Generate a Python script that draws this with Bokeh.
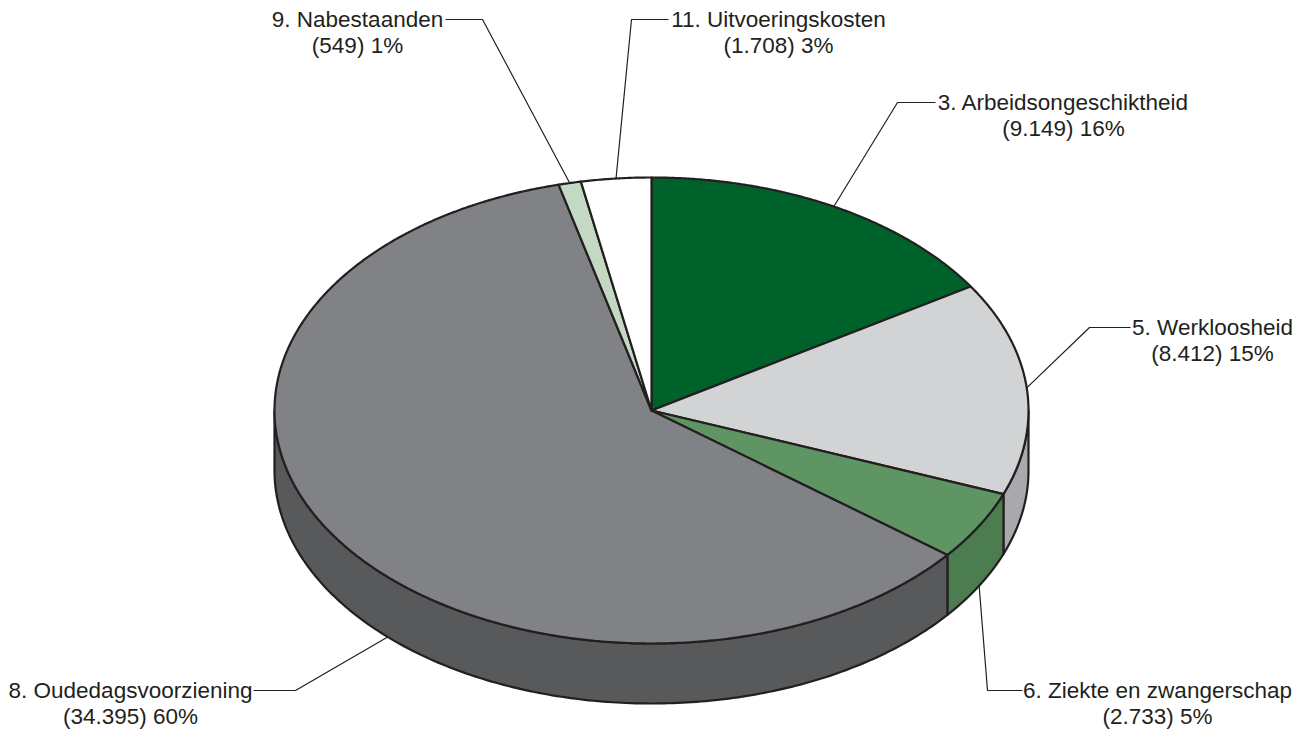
import numpy as np
from bokeh.plotting import figure
from bokeh.models import Range1d
from bokeh.core.properties import value
from bokeh.embed import file_html
from bokeh.resources import INLINE

# ---------------- data ----------------
categories = ["3. Arbeidsongeschiktheid", "5. Werkloosheid", "6. Ziekte en zwangerschap",
              "8. Oudedagsvoorziening", "9. Nabestaanden", "11. Uitvoeringskosten"]
amounts = [9149, 8412, 2733, 34395, 549, 1708]
amount_labels = ["9.149", "8.412", "2.733", "34.395", "549", "1.708"]
percent_labels = ["16%", "15%", "5%", "60%", "1%", "3%"]

# ---------------- styles ----------------
top_colors = ["#00622b", "#d1d3d4", "#5f9563", "#808285", "#c3d9c4", "#ffffff"]
side_colors = ["#004a20", "#a7a9ac", "#4b7d50", "#58595b", "#9fb8a0", "#dcdcdc"]
edge_color = "#231f20"
text_color = "#231f20"
FONT = "Liberation Sans"

# pie geometry (pixels)
CX, CY = 651.0, 410.0
RX, RY = 377.0, 233.0
DEPTH = 60.0
LINE_GAP = 26
MAX_LINE2 = 716

# label layout: text centre x, line-1 centre y, text-edge x, elbow x, anchor fraction, anchor face
label_layout = [
    (1063, 102, 935, 897, 0.5, "top"),
    (1212, 327, 1130, 1089, 0.5, "top"),
    (1157, 707, 1022, 987, 0.5, "bottom"),
    (130, 708, 253, 295, 0.442, "bottom"),
    (357, 19, 445, 482, 0.5, "top"),
    (778, 19, 668, 631, 0.5, "top"),
]

total = float(sum(amounts))
fracs = np.cumsum([0.0] + [a / total for a in amounts])
starts = fracs[:-1] * 360.0
ends = fracs[1:] * 360.0


def pt(theta_deg, dy=0.0):
    t = np.radians(theta_deg)
    return CX + RX * np.sin(t), CY - RY * np.cos(t) + dy


p = figure(width=1294, height=732, x_range=Range1d(0, 1294), y_range=Range1d(732, 0),
           output_backend="svg", toolbar_location=None, min_border=0,
           x_axis_type=None, y_axis_type=None)
p.grid.visible = False
p.outline_line_color = None
p.background_fill_color = "white"
p.border_fill_color = "white"

# side walls (front half only: 90..270 deg)
side_xs, side_ys, side_cols = [], [], []
for a0, a1, col in zip(starts, ends, side_colors):
    t0, t1 = max(a0, 90.0), min(a1, 270.0)
    if t1 <= t0:
        continue
    th = np.linspace(t0, t1, 200)
    xt, yt = pt(th)
    xb, yb = pt(th[::-1], DEPTH)
    side_xs.append(list(np.concatenate([xt, xb])))
    side_ys.append(list(np.concatenate([yt, yb])))
    side_cols.append(col)
p.patches(side_xs, side_ys, fill_color=side_cols, line_color=edge_color,
          line_width=2.2, line_join="round")

# top faces
top_xs, top_ys = [], []
for a0, a1 in zip(starts, ends):
    n = max(10, int((a1 - a0) * 3))
    th = np.linspace(a0, a1, n)
    xa, ya = pt(th)
    top_xs.append([CX] + list(xa))
    top_ys.append([CY] + list(ya))
p.patches(top_xs, top_ys, fill_color=top_colors, line_color=edge_color,
          line_width=2.2, line_join="round")

# leader lines and labels
lx, ly = [], []
tx, ty, tt = [], [], []
for i, (cx, cy, ex, elx, af, face) in enumerate(label_layout):
    shift = max(0, cy + LINE_GAP - MAX_LINE2)
    cy = cy - shift
    ang = starts[i] + af * (ends[i] - starts[i])
    ax, ay = pt(ang, DEPTH if face == "bottom" else 0.0)
    lx.append([ex, elx, float(ax)])
    ly.append([cy, cy, float(ay)])
    tx += [cx, cx]
    ty += [cy, cy + LINE_GAP]
    tt += [categories[i], "(" + amount_labels[i] + ") " + percent_labels[i]]

p.multi_line(lx, ly, line_color=edge_color, line_width=1.2)
p.text(x=tx, y=ty, text=tt, text_align="center", text_baseline="middle",
       text_font=value(FONT), text_font_size="22.5px", text_color=text_color)

open("out.html", "w").write(file_html(p, INLINE))
